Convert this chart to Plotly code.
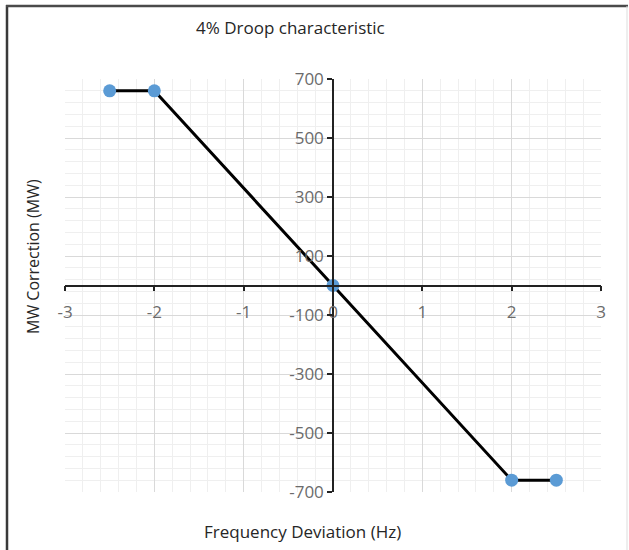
import plotly.graph_objects as go

freq_dev = [-2.5, -2, 0, 2, 2.5]
mw_correction = [660, 660, 0, -660, -660]

x_ticks = [-3, -2, -1, 0, 1, 2, 3]
y_ticks = [-700, -500, -300, -100, 100, 300, 500, 700]

title_text = "4% Droop characteristic"
x_title = "Frequency Deviation (Hz)"
y_title = "MW Correction (MW)"

W, H = 629, 550
L, R, T, B = 65, 28, 79, 58
pw, ph = W - L - R, H - T - B

def px_x(p):
    return (p - L) / pw

def px_y(p):
    return (H - B - p) / ph

font_fam = "Open Sans, Liberation Sans, sans-serif"

fig = go.Figure()
fig.add_trace(go.Scatter(
    x=freq_dev, y=mw_correction, mode="lines+markers",
    line=dict(color="black", width=3),
    marker=dict(color="#5b9bd5", size=13),
    showlegend=False,
))

axis_common = dict(
    showline=True, linecolor="#222222", linewidth=1.5,
    ticks="outside", ticklen=5, tickcolor="#222222", tickwidth=1.5,
    showgrid=True, gridcolor="#d9d9d9", gridwidth=1,
    zeroline=False,
    tickfont=dict(family=font_fam, size=17, color="#6b6b6b"),
    anchor="free", position=0.5,
)

fig.update_layout(
    width=W, height=H,
    margin=dict(l=L, r=R, t=T, b=B),
    paper_bgcolor="white", plot_bgcolor="white",
    xaxis=dict(range=[-3, 3], tickvals=x_ticks, ticktext=[str(v) for v in x_ticks],
               minor=dict(dtick=0.2, tick0=-3, showgrid=True, gridcolor="#efefef", ticks=""),
               ticklabelstandoff=6,
               **axis_common),
    yaxis=dict(range=[-700, 700], tickvals=y_ticks, ticktext=[str(v) for v in y_ticks],
               minor=dict(dtick=40, tick0=-700, showgrid=True, gridcolor="#efefef", ticks=""),
               ticklabelstandoff=0,
               **axis_common),
    annotations=[
        dict(text=title_text, xref="paper", yref="paper", x=px_x(290), y=px_y(27),
             showarrow=False, xanchor="center", yanchor="middle",
             font=dict(family=font_fam, size=17, color="#262626")),
        dict(text=x_title, xref="paper", yref="paper", x=px_x(302), y=px_y(531),
             showarrow=False, xanchor="center", yanchor="middle",
             font=dict(family=font_fam, size=17, color="#262626")),
        dict(text=y_title, xref="paper", yref="paper", x=px_x(33), y=px_y(257),
             showarrow=False, xanchor="center", yanchor="middle", textangle=-90,
             font=dict(family=font_fam, size=16, color="#262626")),
    ],
    shapes=[
        dict(type="line", xref="paper", yref="paper", x0=px_x(7), x1=px_x(7), y0=px_y(5), y1=px_y(560),
             line=dict(color="#3a3a3a", width=2.5)),
        dict(type="line", xref="paper", yref="paper", x0=px_x(6), x1=px_x(628), y0=px_y(6), y1=px_y(6),
             line=dict(color="#4a4a4a", width=2.5)),
        dict(type="line", xref="paper", yref="paper", x0=px_x(627), x1=px_x(627), y0=px_y(6), y1=px_y(560),
             line=dict(color="#dddddd", width=1)),
    ],
)

fig.write_html("out.html", config={"displayModeBar": False},
               post_script="document.body.style.margin='0';document.body.style.overflow='hidden';")
